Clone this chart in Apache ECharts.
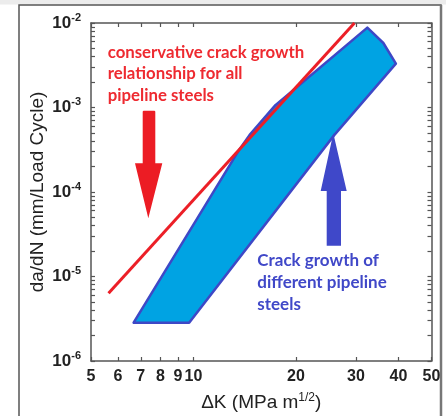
<!DOCTYPE html>
<html>
<head>
<meta charset="utf-8">
<script src="https://cdn.jsdelivr.net/npm/echarts@6/dist/echarts.min.js"></script>
<style>
  html, body { margin: 0; padding: 0; background: #fff; }
  #chart { width: 446px; height: 416px; }
</style>
</head>
<body>
<div id="chart"></div>
<script>
// Stress intensity range (MPa m^1/2) and crack growth rate (mm/cycle)
const kTicks = [5, 6, 7, 8, 9, 10, 20, 30, 40, 50];
const rateTicks = [1e-6, 1e-5, 1e-4, 1e-3, 1e-2];

// Band of measured crack growth for different pipeline steels (polygon outline)
const bandK    = [6.67, 9.71, 25.9, 39.3, 36.1, 32.4, 17.4, 14.6, 13.5];
const bandRate = [2.84e-6, 2.84e-6, 4.71e-4, 3.31e-3, 5.80e-3, 8.82e-3, 1.065e-3, 4.71e-4, 2.99e-4];

// Conservative design curve
const curveK    = [5.63, 29.7];
const curveRate = [6.33e-6, 1e-2];

// minor ticks for the log rate axis: 1..9 x each decade
const rateMinor = [];
for (let e = -6; e <= -2; e++) {
  for (let m = 1; m <= 9; m++) {
    const v = m * Math.pow(10, e);
    if (v <= 1.0000001e-2) rateMinor.push(Number(v.toPrecision(3)));
  }
}

const axisColor = '#555';
const tickFont = { fontFamily: 'Liberation Sans', fontWeight: 'bold', color: '#222' };

const chart = echarts.init(document.getElementById('chart'), null, { renderer: 'canvas' });

function xAxisDef(pos, showLabel) {
  return {
    type: 'log', logBase: 10, min: 5, max: 50, position: pos,
    axisLine: { show: true, lineStyle: { color: axisColor, width: 1.5 } },
    axisTick: { show: true, inside: true, length: 4, customValues: kTicks,
                lineStyle: { color: axisColor, width: 1.2 } },
    axisLabel: { show: showLabel, customValues: kTicks, margin: 8,
                 fontSize: 16, ...tickFont, formatter: v => String(Math.round(v)) },
    splitLine: { show: false }, minorTick: { show: false },
    name: showLabel ? 'ΔK (MPa m{s|1/2})' : '',
    nameLocation: 'middle', nameGap: 31, nameMoveOverlap: false,
    nameTextStyle: { fontFamily: 'Liberation Sans', fontSize: 19, color: '#222',
      rich: { s: { fontFamily: 'Liberation Sans', fontSize: 12, color: '#222',
                   verticalAlign: 'top', padding: [0, 0, 10, 0] } } }
  };
}
function yAxisDef(pos, showLabel) {
  return {
    type: 'log', logBase: 10, min: 1e-6, max: 1e-2, position: pos,
    axisLine: { show: true, lineStyle: { color: axisColor, width: 1.5 } },
    axisTick: { show: true, inside: true, length: 4, customValues: rateMinor,
                lineStyle: { color: axisColor, width: 1.2 } },
    axisLabel: { show: showLabel, customValues: rateTicks, margin: 10,
      formatter: v => '{b|10}{s|' + Math.round(Math.log10(v)) + '}',
      rich: {
        b: { fontSize: 17, ...tickFont },
        s: { fontSize: 11, ...tickFont, padding: [0, 0, 11, 0] }
      } },
    splitLine: { show: false }, minorTick: { show: false },
    name: showLabel ? 'da/dN (mm/Load Cycle)' : '',
    nameLocation: 'middle', nameGap: 44, nameRotate: 90, nameMoveOverlap: false,
    nameTextStyle: { fontFamily: 'Liberation Sans', fontSize: 19, color: '#222' }
  };
}

chart.setOption({
  animation: false,
  backgroundColor: '#fff',
  grid: { left: 91, right: 14.5, top: 23, bottom: 55, containLabel: false, outerBoundsMode: 'none' },
  xAxis: [xAxisDef('bottom', true), xAxisDef('top', false)],
  yAxis: [yAxisDef('left', true), yAxisDef('right', false)],
  series: [
    {
      type: 'custom',
      name: 'Crack growth of different pipeline steels',
      clip: true,
      data: bandK.map((k, i) => [k, bandRate[i]]),
      renderItem: function (params, api) {
        if (params.dataIndex !== 0) return null;
        const pts = bandK.map((k, i) => api.coord([k, bandRate[i]]));
        return {
          type: 'polygon',
          shape: { points: pts },
          style: { fill: '#00a3e3', stroke: '#3e48c6', lineWidth: 2.5, lineJoin: 'round' }
        };
      },
      z: 2
    },
    {
      type: 'line',
      name: 'conservative crack growth relationship',
      data: curveK.map((k, i) => [k, curveRate[i]]),
      symbol: 'none',
      clip: true,
      lineStyle: { color: '#ec1f27', width: 3 },
      z: 3
    }
  ],
  graphic: [
    // page frame
    { type: 'rect', shape: { x: 0, y: 0, width: 446, height: 4.5 }, style: { fill: '#ececec' }, z: 0, silent: true },
    { type: 'rect', shape: { x: 19, y: 5, width: 422, height: 430 },
      style: { fill: 'none', stroke: '#555', lineWidth: 1.5 }, z: 0, silent: true },
    { type: 'line', shape: { x1: 441, y1: 5, x2: 441, y2: 416 },
      style: { stroke: '#777', lineWidth: 2.5 }, z: 0, silent: true },

    // red annotation
    { type: 'text', x: 107.7, y: 52.3, style: { text: 'conservative crack growth', fill: '#ee2a30',
        font: 'bold 16.8px Lato', textVerticalAlign: 'middle' }, z: 10 },
    { type: 'text', x: 107.7, y: 74, style: { text: 'relationship for all', fill: '#ee2a30',
        font: 'bold 16.8px Lato', textVerticalAlign: 'middle' }, z: 10 },
    { type: 'text', x: 107.7, y: 96, style: { text: 'pipeline steels', fill: '#ee2a30',
        font: 'bold 16.8px Lato', textVerticalAlign: 'middle' }, z: 10 },
    { type: 'polygon', shape: { points: [[142.7, 111.5], [143.5, 110.7], [154.5, 110.7], [155.3, 111.5],
        [155.3, 163.3], [162.3, 163.3], [148.3, 218.3], [135, 163.3], [142.7, 163.3]] },
      style: { fill: '#ec1c24' }, z: 10 },

    // blue annotation
    { type: 'text', x: 257.3, y: 260.7, style: { text: 'Crack growth of', fill: '#4048c8',
        font: 'bold 17px Lato', textVerticalAlign: 'middle' }, z: 10 },
    { type: 'text', x: 257.3, y: 283, style: { text: 'different pipeline', fill: '#4048c8',
        font: 'bold 17px Lato', textVerticalAlign: 'middle' }, z: 10 },
    { type: 'text', x: 257.3, y: 305, style: { text: 'steels', fill: '#4048c8',
        font: 'bold 17px Lato', textVerticalAlign: 'middle' }, z: 10 },
    { type: 'polygon', shape: { points: [[333.3, 133.3], [346.7, 191], [341, 191], [341, 245.7],
        [326.7, 245.7], [326.7, 191], [320.7, 191]] },
      style: { fill: '#3f48c9' }, z: 10 }
  ]
});
</script>
</body>
</html>
